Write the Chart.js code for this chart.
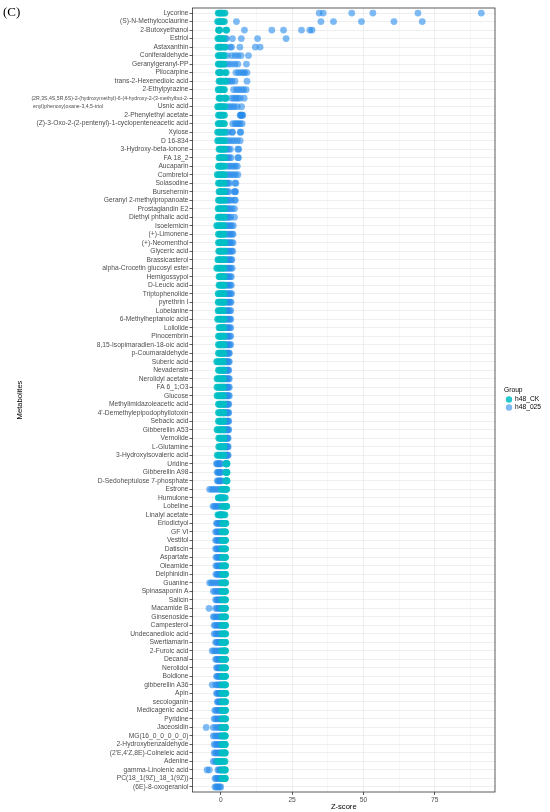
<!DOCTYPE html>
<html>
<head>
<meta charset="utf-8">
<script src="https://cdn.jsdelivr.net/npm/chart.js@4.4.0/dist/chart.umd.min.js"></script>
<style>
  body { margin: 0; background: #fff; }
  #chart { display: block; }
</style>
</head>
<body>
<canvas id="chart" width="550" height="812"></canvas>
<script>
const metabolites = [
  "Lycorine", "(S)-N-Methylcoclaurine", "2-Butoxyethanol", "Estriol", "Astaxanthin",
  "Coniferaldehyde", "Geranylgeranyl-PP", "Pilocarpine", "trans-2-Hexenedioic acid", "2-Ethylpyrazine",
  "(2R,3S,4S,5R,6S)-2-(hydroxymethyl)-6-(4-hydroxy-2-(3-methylbut-2-enyl)phenoxy)oxane-3,4,5-triol",
  "Usnic acid", "2-Phenylethyl acetate", "(Z)-3-Oxo-2-(2-pentenyl)-1-cyclopenteneacetic acid", "Xylose",
  "D 16-834", "3-Hydroxy-beta-ionone", "FA 18_2", "Aucaparin", "Combretol",
  "Solasodine", "Bursehernin", "Geranyl 2-methylpropanoate", "Prostaglandin E2", "Diethyl phthalic acid",
  "Isoelemicin", "(+)-Limonene", "(+)-Neomenthol", "Glyceric acid", "Brassicasterol",
  "alpha-Crocetin glucosyl ester", "Hemigossypol", "D-Leucic acid", "Triptophenolide", "pyrethrin I",
  "Lobelanine", "6-Methylheptanoic acid", "Loliolide", "Pinocembrin", "8,15-Isopimaradien-18-oic acid",
  "p-Coumaraldehyde", "Suberic acid", "Nevadensin", "Nerolidyl acetate", "FA 6_1;O3",
  "Glucose", "Methylimidazoleacetic acid", "4'-Demethylepipodophyllotoxin", "Sebacic acid", "Gibberellin A53",
  "Vernolide", "L-Glutamine", "3-Hydroxyisovaleric acid", "Uridine", "Gibberellin A98",
  "D-Sedoheptulose 7-phosphate", "Estrone", "Humulone", "Lobeline", "Linalyl acetate",
  "Eriodictyol", "GF VI", "Vestitol", "Datiscin", "Aspartate",
  "Oleamide", "Delphinidin", "Guanine", "Spinasaponin A", "Salicin",
  "Macamide B", "Ginsenoside", "Campesterol", "Undecanedioic acid", "Swertiamarin",
  "2-Furoic acid", "Decanal", "Nerolidol", "Boldione", "gibberellin A36",
  "Apin", "secologanin", "Medicagenic acid", "Pyridine", "Jaceosidin",
  "MG(16_0_0_0_0_0)", "2-Hydroxybenzaldehyde", "(2'E,4'Z,8E)-Colneleic acid", "Adenine", "gamma-Linolenic acid",
  "PC(18_1(9Z)_18_1(9Z))", "(6E)-8-oxogeraniol"
];

// h48_CK replicate z-scores, one row per metabolite
const ckScores = [
  [-0.9,-0.5,0,0.4,0.9,1.5], [-1.1,-0.6,-0.2,0.3,0.8,1.3], [-0.8,-0.6,-0.5,-0.4,1.8,2.1], [-1,-0.6,-0.2,0.2,0.7,1.1],
  [-1,-0.6,-0.2,0.3,0.9,1.5], [-0.9,-0.5,0,0.5,1.0,1.2], [-0.9,-0.5,0,0.4,0.9,1.2], [-0.8,-0.5,-0.2,0.2,1.5,1.9],
  [-0.6,-0.2,0.2,0.7,1.2,1.8], [-0.9,-0.5,0,0.4,0.9,1.3], [-0.6,-0.3,0.1,1.3,1.6,1.9], [-1.1,-0.6,-0.1,0.4,0.9,1.5],
  [-0.8,-0.4,0,0.4,0.8,1.3], [-0.9,-0.5,0,0.4,0.9,1.3], [-1.1,-0.6,-0.1,0.4,0.9,1.4], [-1.1,-0.6,-0.1,0.4,0.9,1.4],
  [-0.6,-0.2,0.2,0.6,1.0,1.4], [-0.6,-0.2,0.2,0.6,1.0,1.4], [-0.8,-0.4,0,0.4,0.9,1.3], [-1.2,-0.7,-0.2,0.3,0.8,1.3],
  [-0.8,-0.4,0,0.4,0.9,1.3], [-0.6,-0.2,0.2,0.6,1.0,1.3], [-0.8,-0.4,0,0.5,1.0,1.4], [-0.9,-0.5,0,0.5,0.9,1.3],
  [-0.9,-0.5,0,0.4,0.9,1.3], [-1.4,-0.9,-0.4,0.1,0.6,1.1], [-0.8,-0.4,0,0.4,0.8,1.2], [-0.8,-0.4,0,0.5,1.0,1.5],
  [-0.7,-0.3,0.1,0.5,1.0,1.4], [-1.0,-0.6,-0.1,0.4,0.9,1.3], [-1.4,-0.9,-0.4,0.1,0.6,1.1], [-0.6,-0.2,0.2,0.6,1.0,1.2],
  [-0.6,-0.2,0.2,0.6,1.0,1.2], [-0.9,-0.5,0,0.4,0.9,1.2], [-0.9,-0.5,0,0.4,0.8,1.2], [-0.9,-0.5,-0.1,0.3,0.7,1.0],
  [-1.1,-0.6,-0.1,0.3,0.8,1.2], [-0.6,-0.2,0.2,0.5,0.9,1.0], [-0.8,-0.4,0,0.4,0.8,1.2], [-0.8,-0.4,0,0.4,0.8,1.2],
  [-0.8,-0.4,0,0.4,0.8,1.1], [-1.4,-0.9,-0.4,0.1,0.6,1.0], [-0.8,-0.4,0,0.4,0.8,1.1], [-1.3,-0.8,-0.3,0.2,0.6,1.0],
  [-1.3,-0.8,-0.3,0.2,0.6,1.0], [-1.3,-0.8,-0.3,0.2,0.6,1.0], [-0.8,-0.4,0,0.4,0.8,1.1], [-0.8,-0.4,0,0.4,0.8,1.1],
  [-0.8,-0.4,0,0.4,0.8,1.1], [-1.3,-0.8,-0.3,0.2,0.6,1.0], [-0.7,-0.3,0.1,0.5,0.9,1.2], [-0.7,-0.3,0.1,0.5,0.9,1.2],
  [-1.2,-0.7,-0.2,0.3,0.7,1.1], [1.8,1.9,2.0,2.0,2.1,2.2], [1.8,1.9,2.0,2.0,2.1,2.2], [1.8,1.9,2.0,2.1,2.1,2.2],
  [0.3,0.8,1.2,1.6,1.9,2.1], [-0.9,-0.4,0.1,0.6,1.1,1.6], [0.5,1.0,1.4,1.7,2.0,2.1], [-1.0,-0.5,0,0.5,1.0,1.5],
  [0.6,1.0,1.3,1.4,1.6,1.8], [0.4,0.8,1.1,1.4,1.6,1.7], [0.4,0.8,1.1,1.4,1.6,1.7], [0.4,0.8,1.1,1.4,1.6,1.7],
  [0.5,0.9,1.2,1.4,1.6,1.7], [0.5,0.9,1.2,1.4,1.6,1.7], [0.5,0.9,1.2,1.4,1.6,1.7], [0.3,0.7,1.1,1.4,1.6,1.7],
  [0.4,0.8,1.1,1.4,1.6,1.7], [0.4,0.8,1.1,1.4,1.6,1.7], [0.4,0.8,1.1,1.4,1.6,1.7], [0.4,0.8,1.1,1.4,1.6,1.7],
  [0.4,0.8,1.1,1.4,1.6,1.7], [0.4,0.8,1.1,1.4,1.6,1.7], [0.4,0.8,1.1,1.4,1.6,1.7], [0.4,0.8,1.1,1.4,1.6,1.7],
  [0.4,0.8,1.1,1.4,1.6,1.7], [0.4,0.8,1.1,1.4,1.6,1.7], [0.4,0.8,1.1,1.4,1.6,1.7], [0.4,0.8,1.1,1.4,1.6,1.7],
  [0.4,0.8,1.1,1.4,1.6,1.8], [0.4,0.8,1.1,1.4,1.6,1.7], [0.4,0.8,1.1,1.4,1.6,1.7], [0.4,0.8,1.1,1.4,1.6,1.7],
  [0.4,0.8,1.1,1.4,1.6,1.7], [0.4,0.8,1.1,1.3,1.5,1.6], [0.4,0.8,1.1,1.3,1.5,1.6], [0.4,0.8,1.1,1.3,1.5,1.6],
  [-1.2,-0.6,0,0.6,1.1,1.5], [0.4,0.8,1.1,1.3,1.5,1.6], [0.4,0.8,1.1,1.3,1.5,1.6]
];

// h48_025 replicate z-scores, one row per metabolite
const trScores = [
  [34.5,35.9,45.9,53.3,69.1,91.3], [5.5,35.1,39.5,49.3,60.7,70.6], [8.3,17.9,22.0,28.3,31.2,32.0], [1.6,2.0,4.1,7.2,12.9,22.9],
  [1.8,3.3,3.8,6.7,12.1,13.8], [2.2,3.8,5.0,6.0,7.1,9.7], [1.8,2.8,3.8,5.0,6.0,9.0], [5.3,6.2,7.0,7.8,8.4,9.2],
  [1.8,2.6,3.3,4.0,5.0,9.2], [4.5,5.5,6.3,7.2,8.0,8.9], [3.8,4.6,5.3,6.0,6.8,8.2], [2.3,3.2,4.0,4.8,5.8,7.3],
  [6.8,7.0,7.2,7.3,7.5,7.7], [4.2,5.0,5.6,6.2,6.8,7.5], [1.8,2.6,4.0,4.1,6.8,7.0], [2.2,3.0,3.9,4.8,5.8,6.8],
  [1.6,2.2,2.8,3.4,6.0,6.3], [1.8,2.4,3.0,3.6,6.0,6.2], [2.3,3.0,3.8,4.5,5.2,5.8], [2.0,2.8,3.6,4.4,5.2,6.0],
  [1.6,2.1,2.6,3.0,5.0,5.3], [1.8,2.3,2.8,4.8,5.0,5.2], [1.8,2.4,3.0,3.6,4.8,5.1], [1.5,2.0,2.6,3.2,4.0,4.8],
  [1.5,2.0,2.5,3.0,3.5,4.8], [1.4,2.0,2.6,3.2,3.8,4.4], [1.5,2.2,2.8,3.4,4.0,4.3], [1.8,2.3,2.8,3.3,3.8,4.3],
  [1.8,2.3,2.8,3.3,3.8,4.2], [1.7,2.2,2.7,3.2,3.6,3.9], [1.5,2.0,2.5,3.0,3.5,4.0], [1.3,1.8,2.3,2.8,3.3,3.7],
  [1.3,1.8,2.3,2.8,3.3,3.7], [1.5,2.0,2.5,3.0,3.4,3.8], [1.5,2.0,2.5,2.9,3.3,3.6], [1.3,1.8,2.3,2.7,3.1,3.5],
  [1.3,1.8,2.3,2.8,3.2,3.5], [1.2,1.7,2.2,2.7,3.1,3.5], [1.3,1.8,2.3,2.7,3.1,3.5], [1.3,1.8,2.3,2.7,3.1,3.5],
  [1.3,1.7,2.1,2.5,2.8,3.0], [1.2,1.6,2.0,2.4,2.7,3.0], [1.2,1.6,2.0,2.4,2.6,2.8], [1.2,1.6,2.0,2.4,2.7,3.0],
  [1.2,1.6,2.0,2.4,2.7,3.0], [1.2,1.6,2.0,2.4,2.7,3.0], [1.2,1.6,2.0,2.3,2.6,2.8], [1.2,1.6,2.0,2.3,2.6,2.8],
  [1.2,1.6,2.0,2.3,2.6,2.8], [1.2,1.6,2.0,2.3,2.6,2.8], [1.3,1.6,1.9,2.2,2.4,2.6], [1.3,1.6,1.9,2.2,2.4,2.6],
  [1.3,1.6,1.9,2.2,2.4,2.6], [-1.5,-1.2,-0.9,-0.6,-0.3,0.2], [-1.2,-1.0,-0.7,-0.4,-0.1,0.3], [-1.2,-0.9,-0.6,-0.3,0,0.5],
  [-3.9,-3.2,-2.5,-1.8,-1.0,-0.3], [-0.6,-0.3,0,0.3,0.6,0.9], [-2.7,-2.2,-1.7,-1.2,-0.6,-0.1], [-0.4,-0.2,0,0.2,0.4,0.6],
  [-1.5,-1.2,-0.8,-0.4,0,0.4], [-1.8,-1.4,-1.0,-0.6,-0.2,0.2], [-1.8,-1.4,-1.0,-0.6,-0.2,0.2], [-1.8,-1.4,-1.0,-0.6,-0.2,0.2],
  [-1.7,-1.3,-0.9,-0.5,-0.1,0.3], [-1.7,-1.3,-0.9,-0.5,-0.1,0.3], [-1.7,-1.3,-0.9,-0.5,-0.1,0.3], [-3.9,-3.3,-2.6,-1.8,-1.0,-0.3],
  [-2.6,-2.0,-1.4,-0.8,-0.3,0.2], [-1.8,-1.4,-1.0,-0.6,-0.2,0.2], [-4.1,-1.8,-1.3,-0.8,-0.4,0], [-2.6,-2.2,-1.6,-1.0,-0.4,0.1],
  [-2.3,-1.8,-1.3,-0.8,-0.3,0.1], [-2.3,-1.8,-1.3,-0.8,-0.3,0.1], [-1.8,-1.4,-1.0,-0.6,-0.2,0.2], [-3.0,-2.4,-1.8,-1.2,-0.6,0],
  [-1.8,-1.4,-1.0,-0.6,-0.2,0.2], [-1.5,-1.1,-0.8,-0.5,-0.2,0.2], [-1.5,-1.1,-0.8,-0.5,-0.2,0.2], [-3.0,-1.8,-1.3,-0.8,-0.4,0],
  [-1.5,-1.1,-0.8,-0.5,-0.2,0.2], [-1.2,-0.9,-0.6,-0.3,0,0.3], [-2.1,-1.6,-1.1,-0.6,-0.2,0.2], [-2.3,-1.8,-1.3,-0.8,-0.3,0.1],
  [-5.1,-2.6,-1.8,-1.0,-0.4,0.1], [-2.6,-2.0,-1.4,-0.8,-0.3,0.1], [-2.3,-1.8,-1.3,-0.8,-0.3,0.1], [-2.3,-1.8,-1.3,-0.8,-0.3,0.1],
  [-2.6,-2.0,-1.4,-0.8,-0.3,0.1], [-4.8,-4.0,-1.0,-0.6,-0.2,0.2], [-2.0,-1.6,-1.2,-0.8,-0.4,0], [-2.0,-1.6,-1.2,-0.8,-0.4,0]
];

const groupNames = ["h48_CK", "h48_025"];
const groupColors = ["rgba(0,190,196,0.85)", "rgba(40,140,235,0.6)"];
const xTickValues = [0, 12.5, 25, 37.5, 50, 62.5, 75, 87.5];

const labelFont = { family: "'Liberation Sans', Arial, sans-serif", size: 6.7 };
const titleFont = { family: "'Liberation Sans', Arial, sans-serif", size: 7.6 };

function toPoints(rows) {
  const pts = [];
  rows.forEach((vals, i) => vals.forEach(v => pts.push({ x: v, y: i })));
  return pts;
}

function isMajor(ctx) {
  return ctx.tick && ctx.tick.value % 25 === 0;
}

// border, long wrapped label, panel tag and legend
const panelExtras = {
  id: "panelExtras",
  afterDraw(chart) {
    const { ctx, chartArea: a } = chart;
    const yScale = chart.scales.y;
    ctx.save();
    ctx.strokeStyle = "#333";
    ctx.lineWidth = 0.8;
    ctx.strokeRect(a.left, a.top, a.right - a.left, a.bottom - a.top);

    ctx.textBaseline = "middle";
    ctx.fillStyle = "#4D4D4D";
    ctx.font = "5.2px 'Liberation Sans', Arial, sans-serif";
    metabolites.forEach((name, i) => {
      if (name.length <= 60) return;
      const cut = name.indexOf("2-enyl") + 2;
      ctx.textAlign = "right";
      ctx.fillText(name.slice(0, cut), a.left - 4, yScale.getPixelForValue(i));
      ctx.textAlign = "left";
      ctx.fillText(name.slice(cut), 33, yScale.getPixelForValue(i + 1));
    });

    ctx.textAlign = "left";
    ctx.fillStyle = "#000";
    ctx.font = "13px 'Liberation Serif', serif";
    ctx.fillText("(C)", 3, 13);

    ctx.font = "6.7px 'Liberation Sans', Arial, sans-serif";
    ctx.fillText("Group", 504, 390);
    chart.data.datasets.forEach((ds, i) => {
      const cy = 399.5 + i * 8;
      ctx.beginPath();
      ctx.arc(509, cy, 3.2, 0, Math.PI * 2);
      ctx.fillStyle = ds.backgroundColor;
      ctx.fill();
      ctx.fillStyle = "#000";
      ctx.fillText(ds.label, 515, cy);
    });
    ctx.restore();
  }
};

new Chart(document.getElementById("chart"), {
  type: "scatter",
  data: {
    datasets: [
      { label: groupNames[0], data: toPoints(ckScores), backgroundColor: groupColors[0], borderWidth: 0, pointRadius: 3.4, pointHoverRadius: 3.4 },
      { label: groupNames[1], data: toPoints(trScores), backgroundColor: groupColors[1], borderWidth: 0, pointRadius: 3.4, pointHoverRadius: 3.4 }
    ]
  },
  options: {
    responsive: false,
    animation: false,
    layout: { padding: { top: 8, right: 55, left: 0, bottom: 0 } },
    plugins: { legend: { display: false }, tooltip: { enabled: false } },
    scales: {
      x: {
        type: "linear",
        min: -9.9,
        max: 96.1,
        afterBuildTicks: axis => { axis.ticks = xTickValues.map(v => ({ value: v })); },
        afterFit: axis => { axis.height = 20; },
        border: { display: false },
        grid: {
          color: "#EBEBEB",
          lineWidth: ctx => isMajor(ctx) ? 0.8 : 0.4,
          tickLength: 3,
          tickColor: ctx => isMajor(ctx) ? "#333" : "rgba(0,0,0,0)"
        },
        ticks: {
          autoSkip: false,
          maxRotation: 0,
          padding: 1,
          color: "#4D4D4D",
          font: labelFont,
          callback: v => v % 25 === 0 ? String(v) : ""
        },
        title: { display: true, text: "Z-score", color: "#000", font: titleFont, padding: { top: 0, bottom: 1 } }
      },
      y: {
        type: "linear",
        reverse: true,
        min: -0.6,
        max: 91.6,
        afterBuildTicks: axis => { axis.ticks = metabolites.map((m, i) => ({ value: i })); },
        afterFit: axis => { axis.width = 192.5; },
        border: { display: false },
        grid: { color: "#EBEBEB", lineWidth: 0.8, tickLength: 3, tickColor: "#333" },
        ticks: {
          autoSkip: false,
          padding: 1,
          color: "#4D4D4D",
          font: labelFont,
          callback: v => metabolites[v].length > 60 ? "" : metabolites[v]
        },
        title: { display: true, text: "Metabolites", color: "#000", font: titleFont, padding: { top: 15, bottom: 0 } }
      }
    }
  },
  plugins: [panelExtras]
});
</script>
</body>
</html>
